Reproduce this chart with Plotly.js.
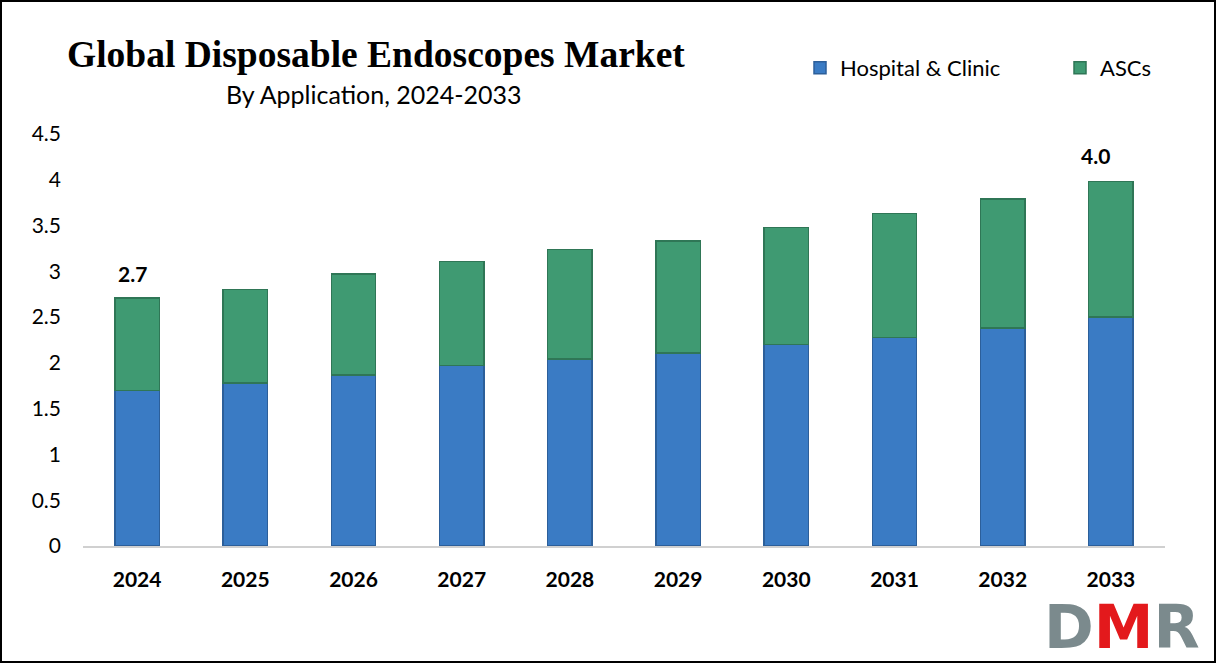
<!DOCTYPE html>
<html>
<head>
<meta charset="utf-8">
<script src="https://cdn.plot.ly/plotly-3.0.1.min.js"></script>
<style>
html,body{margin:0;padding:0;background:#fff;}
#wrap{position:relative;width:1216px;height:663px;}
#chart{width:1216px;height:663px;}
#frame{position:absolute;left:0;top:0;width:1216px;height:663px;box-sizing:border-box;border:2px solid #000;pointer-events:none;}
</style>
</head>
<body>
<div id="wrap"><div id="chart"></div><div id="frame"></div></div>
<script>
const years = ['2024','2025','2026','2027','2028','2029','2030','2031','2032','2033'];
const hospitalClinic = [1.70, 1.78, 1.87, 1.97, 2.04, 2.11, 2.20, 2.28, 2.38, 2.50];
const ascs = [1.01, 1.02, 1.10, 1.14, 1.20, 1.22, 1.28, 1.35, 1.41, 1.48];
const seriesNames = ['Hospital & Clinic', 'ASCs'];
const totalLabels = {'2024': '2.7', '2033': '4.0'};
const yTicks = [0, 0.5, 1, 1.5, 2, 2.5, 3, 3.5, 4, 4.5];

const totals = years.map((y, i) => hospitalClinic[i] + ascs[i]);
const labelShift = {'2024': [-5, 10], '2033': [-15, 12]};

const FONT = 'Lato, "Open Sans", sans-serif';

const traces = [
  {type: 'bar', name: seriesNames[0], x: years, y: hospitalClinic, width: 0.41,
   marker: {color: '#3a7bc4', line: {color: '#2c5f9a', width: 1.5}}},
  {type: 'bar', name: seriesNames[1], x: years, y: ascs, width: 0.41,
   marker: {color: '#3f9a72', line: {color: '#2f7656', width: 1.5}}}
];

const annotations = Object.keys(totalLabels).map(k => ({
  x: years.indexOf(k), y: totals[years.indexOf(k)], xref: 'x', yref: 'y',
  text: '<b>' + totalLabels[k] + '</b>', showarrow: false,
  yanchor: 'bottom', xshift: labelShift[k][0], yshift: labelShift[k][1],
  font: {family: FONT, size: 21, color: '#000'}
}));

annotations.push({
  xref: 'paper', yref: 'paper', x: (376 - 83) / 1082, y: 1 + (134 - 54) / 412,
  text: '<b>Global Disposable Endoscopes Market</b>', showarrow: false,
  xanchor: 'center', yanchor: 'middle',
  font: {family: '"Liberation Serif", "Times New Roman", serif', size: 37.5, color: '#000'}
});
annotations.push({
  xref: 'paper', yref: 'paper', x: (374 - 83) / 1082, y: 1 + (134 - 94) / 412,
  text: 'By Application, 2024-2033', showarrow: false,
  xanchor: 'center', yanchor: 'middle',
  font: {family: FONT, size: 25, color: '#000'}
});
annotations.push({
  xref: 'paper', yref: 'paper', x: (1122 - 83) / 1082, y: -(627 - 546) / 412,
  text: '<span style="color:#7b8a8d">D</span><span style="color:#e3191c">M</span><span style="color:#7b8a8d">R</span>',
  showarrow: false, xanchor: 'center', yanchor: 'middle',
  font: {family: '"DejaVu Sans", sans-serif', size: 60, weight: 'bold', color: '#7b8a8d'}
});

const layout = {
  width: 1216, height: 663,
  margin: {l: 83, r: 51, t: 134, b: 117, autoexpand: false},
  paper_bgcolor: '#fff', plot_bgcolor: '#fff',
  barmode: 'stack',
  showlegend: true,
  legend: {orientation: 'h', x: (800 - 83) / 1082, y: 1 + (134 - 68) / 412,
           xanchor: 'left', yanchor: 'middle', traceorder: 'normal',
           font: {family: FONT, size: 22, color: '#000'},
           itemwidth: 30, entrywidth: 215, entrywidthmode: 'pixels'},
  xaxis: {type: 'category', showgrid: false, showline: true, linecolor: '#d0d0d0', linewidth: 1.5,
          ticks: '', tickfont: {family: FONT, size: 21, color: '#000', weight: 'bold'},
          ticklabelstandoff: 14, range: [-0.5, 9.5]},
  yaxis: {range: [0, 4.5], tickvals: yTicks, ticktext: yTicks.map(String), showgrid: false,
          zeroline: false, showline: false, ticks: '',
          tickfont: {family: FONT, size: 21, color: '#000'},
          ticklabelstandoff: 21},
  annotations: annotations,
  bargap: 0.59
};

Plotly.newPlot('chart', traces, layout, {displayModeBar: false, staticPlot: true});
</script>
</body>
</html>
